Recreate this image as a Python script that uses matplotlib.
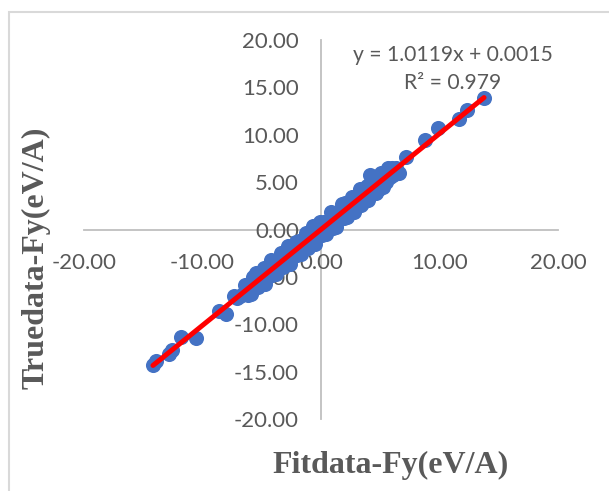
import numpy as np
import matplotlib
matplotlib.use('Agg')
import matplotlib.pyplot as plt
from matplotlib.patches import Rectangle

# fitted vs true Fy values
fit_x = [-14.18, -13.95, -12.83, -12.55, -11.81, -10.55, -8.61, -8.02, -7.34, -7.05, -6.80,
         -6.55, -6.40, -6.20, -6.05, -5.90, -5.75, -5.60, -5.45, -5.30, -5.15,
         -5.00, -4.85, -4.70, -4.55, -4.40, -4.25, -4.10, -3.95, -3.80, -3.65,
         -3.50, -3.35, -3.20, -3.05, -2.90, -2.75, -2.60, -2.45, -2.30, -2.15,
         -2.00, -1.85, -1.70, -1.55, -1.40, -1.25, -1.10, -0.95, -0.80, -0.65,
         -0.50, -0.35, -0.20, -0.05, 0.10, 0.25, 0.40, 0.55, 0.70, 0.85,
         1.00, 1.15, 1.30, 1.45, 1.60, 1.75, 1.90, 2.05, 2.20, 2.35,
         2.50, 2.65, 2.80, 2.95, 3.10, 3.25, 3.40, 3.55, 3.70, 3.85,
         4.00, 4.15, 4.30, 4.45, 4.60, 4.75, 4.90, 5.05, 5.20, 5.35,
         5.50, 5.65, 5.80, 5.95, 6.10, 6.30, 6.55,
         5.99, 7.17, 8.78, 9.87, 11.65, 12.32, 13.76]
true_y = [-14.29, -13.90, -13.12, -12.70, -11.32, -11.43, -8.57, -8.89, -6.98, -7.20, -7.00,
          -6.85, -5.90, -6.90, -5.75, -6.80, -5.05, -5.90, -4.55, -6.10, -4.75,
          -5.60, -4.05, -5.70, -4.35, -4.90, -3.25, -4.80, -3.35, -4.70, -3.35,
          -3.90, -2.45, -4.00, -2.55, -3.50, -1.75, -3.60, -2.05, -2.60, -1.35,
          -2.70, -1.25, -2.60, -1.35, -1.90, -0.35, -1.90, -0.25, -1.40, 0.35,
          -1.50, 0.05, -0.60, 0.75, -0.60, 0.75, -0.50, 0.85, 0.20, 1.85,
          0.20, 1.75, 0.30, 1.65, 1.20, 2.65, 1.20, 2.75, 1.30, 2.75,
          1.90, 3.45, 1.80, 3.25, 2.60, 4.25, 2.60, 4.05, 3.00, 4.55,
          3.10, 5.75, 3.90, 5.05, 3.80, 5.05, 4.30, 5.95, 4.50, 5.75,
          5.00, 6.45, 5.50, 6.45, 5.70, 6.50, 5.95,
          6.35, 7.62, 9.42, 10.69, 11.64, 12.59, 13.86]

slope = 1.0119
intercept = 0.0015
r2 = 0.979
ticks = [-20, -10, 0, 10, 20]
yticks = [-20, -15, -10, -5, 0, 5, 10, 15, 20]

grey = '#595959'
fig = plt.figure(figsize=(6.09, 4.91), dpi=100)
fig.patches.append(Rectangle((9 / 609, -0.1), 1.2, (491 - 12) / 491 + 0.1,
                             transform=fig.transFigure, fill=False,
                             edgecolor='#D9D9D9', lw=1.5))

ax = fig.add_axes([84 / 609, (491 - 419) / 491, 474 / 609, 379 / 491])
ax.set_xlim(-20, 20)
ax.set_ylim(-20, 20)

ax.scatter(fit_x, true_y, s=118, color='#4472C4', zorder=3, linewidths=0)
xs = np.array([min(fit_x), max(fit_x)])
ax.plot(xs, slope * xs + intercept, color='#FF0000', lw=3.6, zorder=4,
        solid_capstyle='round')

for s in ['top', 'right']:
    ax.spines[s].set_visible(False)
for s in ['left', 'bottom']:
    ax.spines[s].set_position(('data', 0))
    ax.spines[s].set_color('#BFBFBF')
    ax.spines[s].set_linewidth(1.3)
    ax.spines[s].set_zorder(1)

ax.set_xticks(ticks)
ax.set_yticks(yticks)
ax.set_xticklabels([f'{t:.2f}' for t in ticks])
ax.set_yticklabels([f'{t:.2f}' for t in yticks])
ax.tick_params(axis='x', length=0, pad=17, labelsize=16, labelcolor=grey)
ax.tick_params(axis='y', length=0, pad=16, labelsize=16, labelcolor=grey)
for lab in ax.get_xticklabels() + ax.get_yticklabels():
    lab.set_fontfamily('Lato')

fig.text(453 / 609, 1 - 55 / 491, f'y = {slope}x + {intercept}', ha='center',
         va='center', fontsize=15.2, color=grey, family='Lato')
fig.text(453 / 609, 1 - 83 / 491, f'R² = {r2}', ha='center', va='center',
         fontsize=15.2, color=grey, family='Lato')

fig.text(391 / 609, 1 - 465 / 491, 'Fitdata-Fy(eV/A)', ha='center', va='center',
         fontsize=23, fontweight='bold', color=grey, family='Liberation Serif')
fig.text(36 / 609, 1 - 258 / 491, 'Truedata-Fy(eV/A)', ha='center', va='center',
         rotation=90, fontsize=23, fontweight='bold', color=grey,
         family='Liberation Serif')

fig.savefig('out.png', dpi=100)
